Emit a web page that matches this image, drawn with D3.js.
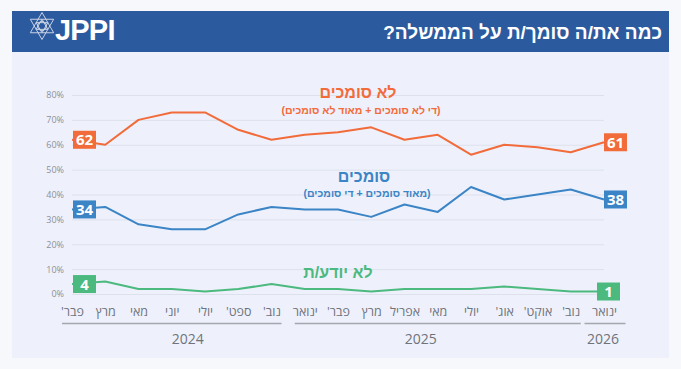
<!DOCTYPE html>
<html>
<head>
<meta charset="utf-8">
<script src="https://cdn.jsdelivr.net/npm/d3@7"></script>
<style>
  html, body { margin: 0; padding: 0; background: #f7f8fb; }
  svg { display: block; font-family: "Open Sans", "Liberation Sans", sans-serif; }
</style>
</head>
<body>
<svg id="chart" width="681" height="369"></svg>
<script>
// survey waves (Hebrew month labels, one per wave)
const months = ["פבר'", "מרץ", "מאי", "יוני", "יולי", "ספט'", "נוב'", "ינואר", "פבר'", "מרץ", "אפריל", "מאי", "יולי", "אוג'", "אוקט'", "נוב'", "ינואר"];
const notTrust = [62, 60, 70, 73, 73, 66, 62, 64, 65, 67, 62, 64, 56, 60, 59, 57, 61];
const trust = [34, 35, 28, 26, 26, 32, 35, 34, 34, 31, 36, 33, 43, 38, 40, 42, 38];
const dontKnow = [4, 5, 2, 2, 1, 2, 4, 2, 2, 1, 2, 2, 2, 3, 2, 1, 1];

const years = ["2024", "2025", "2026"];
const yearFirst = [0, 7, 16];
const yearLast = [6, 15, 16];

const yTicks = [0, 10, 20, 30, 40, 50, 60, 70, 80];

const title = "כמה את/ה סומך/ת על הממשלה?";

const colors = { orange: '#f26b3a', blue: '#3b84c6', green: '#4cb97f' };

const series = [
    { values: notTrust, color: colors.orange, name: 'לא סומכים', sub: '(די לא סומכים + מאוד לא סומכים)', nameY: 98, subY: 114, nameX: 358, endShift: 0 },
    { values: trust, color: colors.blue, name: 'סומכים', sub: '(מאוד סומכים + די סומכים)', nameY: 182, subY: 197, nameX: 364, endShift: 0 },
    { values: dontKnow, color: colors.green, name: 'לא יודע/ת', sub: null, nameY: 278, nameX: 338, endShift: -7 },
];

const svg = d3.select('#chart');

// panel + header band
svg.append('rect').attr('x', 12).attr('y', 52).attr('width', 657).attr('height', 306).attr('fill', '#eef1fb');
svg.append('rect').attr('x', 12).attr('y', 11).attr('width', 657).attr('height', 41).attr('fill', '#2c5a9f');

svg.append('text')
    .attr('x', 662).attr('y', 39)
    .attr('direction', 'rtl')
    .attr('text-anchor', 'start')
    .attr('fill', '#fff')
    .attr('font-size', 19)
    .attr('font-weight', 'bold')
    .style('font-family', '"Liberation Sans", sans-serif')
    .text(title);

// JPPI logo: star of David outline + wordmark
const star = svg.append('g').attr('transform', 'translate(42,26)')
    .attr('fill', 'none').attr('stroke', '#c9d2e4').attr('stroke-width', 1);
const tri = a => d3.range(3).map(k => {
    const t = (a + k * 120) * Math.PI / 180;
    return [13.5 * Math.cos(t), 13.5 * Math.sin(t)];
});
star.append('polygon').attr('points', tri(-90).join(' '));
star.append('polygon').attr('points', tri(90).join(' '));
star.append('circle').attr('r', 4.5);
star.append('polygon').attr('points', tri(-90).map(p => [p[0] * 0.5, p[1] * 0.5]).join(' '));
star.append('polygon').attr('points', tri(90).map(p => [p[0] * 0.5, p[1] * 0.5]).join(' '));

svg.append('text')
    .attr('x', 55).attr('y', 40)
    .attr('fill', '#fff')
    .attr('font-size', 29)
    .attr('font-weight', 'bold')
    .attr('letter-spacing', -0.8)
    .style('font-family', '"Liberation Sans", sans-serif')
    .text('JPPI');

// scales
const x = d3.scalePoint().domain(d3.range(months.length)).range([72, 604]);
const y = d3.scaleLinear().domain([0, 80]).range([294, 95]);

// gridlines + y labels
const yAxis = svg.append('g')
    .attr('transform', 'translate(72,0)')
    .call(d3.axisLeft(y).tickValues(yTicks).tickSize(-532).tickPadding(8).tickFormat(d => d + '%'));
yAxis.select('.domain').remove();
yAxis.selectAll('line').attr('stroke', '#dde1ec').attr('stroke-width', 1);
yAxis.selectAll('text').attr('fill', '#8b909a').attr('font-size', 9)
    .style('font-family', '"Open Sans", sans-serif');

// x labels
const xAxis = svg.append('g')
    .attr('transform', 'translate(0,303)')
    .call(d3.axisBottom(x).tickSize(0).tickPadding(4).tickFormat(i => months[i]));
xAxis.select('.domain').remove();
xAxis.selectAll('text')
    .attr('direction', 'rtl')
    .attr('fill', '#6f737c').attr('font-size', 12.5)
    .style('font-family', '"Open Sans", "Liberation Sans", sans-serif');

// year brackets
const yearLabelShift = [16, -17, -2];
years.forEach((yr, i) => {
    let x0 = x(yearFirst[i]) - 10, x1 = x(yearLast[i]) + 10;
    if (x1 - x0 < 41) { const c = (x0 + x1) / 2 + 1; x0 = c - 20.5; x1 = c + 20.5; }
    svg.append('line')
        .attr('x1', x0).attr('x2', x1).attr('y1', 323.5).attr('y2', 323.5)
        .attr('stroke', '#a4a7ae').attr('stroke-width', 1.5);
    svg.append('text')
        .attr('x', (x0 + x1) / 2 + yearLabelShift[i]).attr('y', 344)
        .attr('text-anchor', 'middle')
        .attr('fill', '#6f737c').attr('font-size', 14)
        .text(yr);
});

// lines
const line = d3.line().x((d, i) => x(i)).y(d => y(d));

series.forEach(s => {
    svg.append('path')
        .datum(s.values)
        .attr('d', line)
        .attr('fill', 'none')
        .attr('stroke', s.color)
        .attr('stroke-width', 2)
        .attr('stroke-linejoin', 'round');
});

// value boxes at both ends
series.forEach(s => {
    const last = s.values.length - 1;
    [0, last].forEach(i => {
        const bx = x(i) + (i === last ? s.endShift : 1);
        const by = y(s.values[i]);
        const g = svg.append('g').attr('transform', `translate(${bx},${by})`);
        g.append('rect').attr('x', 0).attr('y', -9).attr('width', 23).attr('height', 18).attr('fill', s.color);
        g.append('text')
            .attr('x', 11.5).attr('y', 5.5)
            .attr('text-anchor', 'middle')
            .attr('fill', '#fff').attr('font-size', 15).attr('font-weight', 'bold')
            .text(s.values[i]);
    });
});

// series names
series.forEach(s => {
    svg.append('text')
        .attr('x', s.nameX).attr('y', s.nameY)
        .attr('direction', 'rtl')
        .attr('text-anchor', 'middle')
        .attr('fill', s.color).attr('font-size', 16).attr('font-weight', 'bold')
        .style('font-family', '"Liberation Sans", sans-serif')
        .text(s.name);
    if (s.sub) {
        svg.append('text')
            .attr('x', s.nameX + 3).attr('y', s.subY)
            .attr('direction', 'rtl')
            .attr('text-anchor', 'middle')
            .attr('fill', s.color).attr('font-size', 10.5).attr('font-weight', 'bold')
            .style('font-family', '"Liberation Sans", sans-serif')
            .text(s.sub);
    }
});
</script>
</body>
</html>
